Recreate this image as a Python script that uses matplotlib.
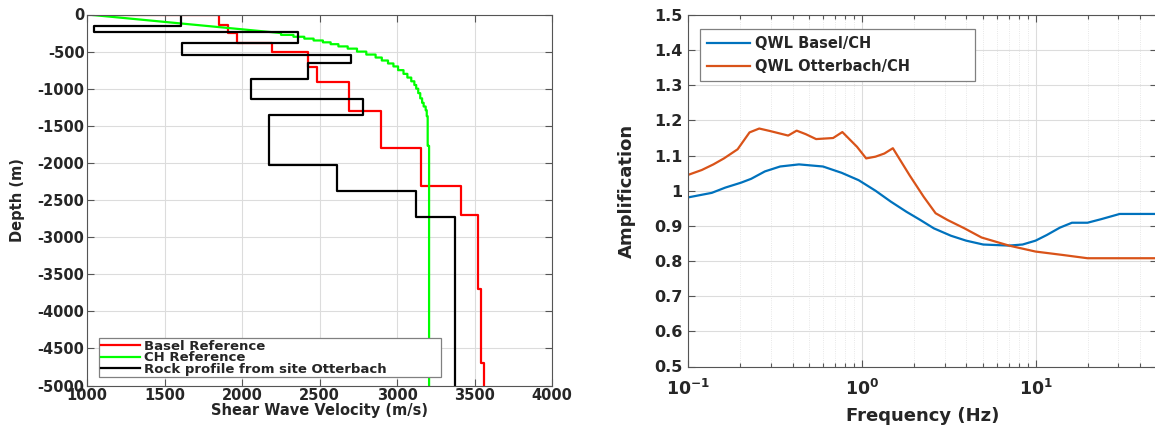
import numpy as np
import matplotlib
matplotlib.use('Agg')
import matplotlib.pyplot as plt
from matplotlib.ticker import FixedLocator, NullFormatter

# ---------------- Left panel data (velocity profiles) ----------------
basel_depth = [0, -10, -140, -253, -380, -505, -703, -905, -1300, -1800,
               -2305, -2702, -3700, -4700, -5000]
basel_vs = [1195, 1852, 1910, 1968, 2194, 2426, 2484, 2686, 2895, 3152,
            3411, 3520, 3540, 3560]

# CH reference: near-linear gradient at the top, then fine layers
ch_grad_depth = [0, -250]
ch_grad_vs = [1000, 2250]
ch_depth = [-250, -275, -300, -325, -350, -375, -400, -430, -460, -500,
            -540, -580, -620, -660, -700, -750, -800, -850, -900, -950,
            -1000, -1060, -1130, -1190, -1240, -1290, -1370, -1770, -5000]
ch_vs = [2250, 2330, 2400, 2460, 2520, 2570, 2620, 2680, 2740, 2800, 2860,
         2900, 2940, 2975, 3005, 3040, 3065, 3090, 3110, 3122, 3135, 3148,
         3160, 3170, 3183, 3190, 3196, 3205]

otter_depth = [0, -160, -232, -388, -546, -658, -873, -1143, -1358, -2028,
               -2379, -2725, -5000]
otter_vs = [1603, 1043, 2361, 1609, 2700, 2422, 2054, 2777, 2170, 2609,
            3119, 3372]

profile_labels = ['Basel Reference', 'CH Reference',
                  'Rock profile from site Otterbach']
vel_ticks = [1000, 1500, 2000, 2500, 3000, 3500, 4000]
depth_ticks = [0, -500, -1000, -1500, -2000, -2500, -3000, -3500, -4000,
               -4500, -5000]

# ---------------- Right panel data (amplification) ----------------
freq_basel = [0.1, 0.137, 0.164, 0.202, 0.231, 0.277, 0.339, 0.435, 0.598,
              0.766, 0.96, 1.20, 1.47, 1.81, 2.17, 2.60, 3.26, 3.99, 5.0,
              7.03, 8.42, 10.0, 11.6, 13.8, 16.2, 19.9, 23.8, 30.5, 50.0]
amp_basel = [0.981, 0.994, 1.009, 1.023, 1.034, 1.055, 1.069, 1.075, 1.069,
             1.051, 1.030, 1.000, 0.969, 0.940, 0.917, 0.893, 0.872, 0.858,
             0.847, 0.844, 0.847, 0.858, 0.874, 0.895, 0.909, 0.909, 0.919,
             0.934, 0.934]

freq_otter = [0.1, 0.120, 0.140, 0.161, 0.193, 0.226, 0.257, 0.296, 0.377,
              0.422, 0.476, 0.546, 0.684, 0.773, 0.939, 1.06, 1.20, 1.35,
              1.51, 1.89, 2.27, 2.66, 3.11, 3.90, 4.89, 7.03, 10.0, 14.5,
              19.9, 50.0]
amp_otter = [1.045, 1.059, 1.075, 1.092, 1.118, 1.166, 1.177, 1.170, 1.157,
             1.171, 1.161, 1.147, 1.150, 1.167, 1.125, 1.092, 1.097, 1.106,
             1.121, 1.043, 0.983, 0.936, 0.917, 0.893, 0.867, 0.844, 0.827,
             0.817, 0.808, 0.808]

amp_labels = ['QWL Basel/CH', 'QWL Otterbach/CH']
amp_ticks = [0.5, 0.6, 0.7, 0.8, 0.9, 1.0, 1.1, 1.2, 1.3, 1.4, 1.5]
amp_ticklabels = ['0.5', '0.6', '0.7', '0.8', '0.9', '1', '1.1', '1.2',
                  '1.3', '1.4', '1.5']
freq_ticks = [0.1, 1, 10]
freq_ticklabels = [r'$\mathbf{10^{-1}}$', r'$\mathbf{10^{0}}$',
                   r'$\mathbf{10^{1}}$']

# ---------------- Style ----------------
TXT = '#262626'
SPINE = '#555555'
plt.rcParams['font.family'] = ['DejaVu Sans']
plt.rcParams['font.weight'] = 'bold'
plt.rcParams['axes.labelweight'] = 'bold'
plt.rcParams['mathtext.default'] = 'bf'
plt.rcParams['axes.unicode_minus'] = False
plt.rcParams['text.color'] = TXT
plt.rcParams['axes.labelcolor'] = TXT
plt.rcParams['xtick.color'] = SPINE
plt.rcParams['ytick.color'] = SPINE
plt.rcParams['xtick.labelcolor'] = TXT
plt.rcParams['ytick.labelcolor'] = TXT


def stair(vs, depth):
    vs = np.asarray(vs, float)
    depth = np.asarray(depth, float)
    x = np.repeat(vs, 2)
    y = np.concatenate(([depth[0]], np.repeat(depth[1:-1], 2), [depth[-1]]))
    return x, y


W, H = 1155, 432
fig = plt.figure(figsize=(W / 100, H / 100), dpi=100)

# ---------------- Left axes ----------------
axL = fig.add_axes([87.3 / W, 1 - 385.5 / H, 465 / W, 371 / H])

xb, yb = stair(basel_vs, basel_depth)
axL.plot(xb, yb, color='#ff0000', lw=1.6, label=profile_labels[0])

xc, yc = stair(ch_vs, ch_depth)
xc = np.concatenate((ch_grad_vs, xc))
yc = np.concatenate((ch_grad_depth, yc))
axL.plot(xc, yc, color='#00ff00', lw=1.6, label=profile_labels[1])

xo, yo = stair(otter_vs, otter_depth)
axL.plot(xo, yo, color='#000000', lw=1.6, label=profile_labels[2])

axL.set_xlim(1000, 4000)
axL.set_ylim(-5000, 0)
axL.set_xticks(vel_ticks)
axL.set_yticks(depth_ticks)
axL.grid(True, color='#dcdcdc', lw=0.8)
axL.set_axisbelow(True)
axL.tick_params(direction='in', length=5, top=True, right=True,
                labelsize=10.5, pad=2, width=0.8)
for s in axL.spines.values():
    s.set_color(SPINE)
    s.set_linewidth(0.8)
axL.set_xlabel('Shear Wave Velocity (m/s)', fontsize=10.5, labelpad=0)
axL.set_ylabel('Depth (m)', fontsize=10.5, labelpad=9)
legL = axL.legend(loc='lower left', bbox_to_anchor=(0.025, 0.022, 0.735, 0.3),
                  mode='expand', borderaxespad=0, fontsize=9.5,
                  handlelength=3.0, labelspacing=-0.12, handletextpad=0.3,
                  borderpad=0.12, fancybox=False, framealpha=1,
                  edgecolor='#808080')
legL.get_frame().set_linewidth(0.9)

# ---------------- Right axes ----------------
axR = fig.add_axes([688 / W, 1 - 366.5 / H, 469 / W, 351.5 / H])
axR.plot(freq_basel, amp_basel, color='#0072BD', lw=1.6, label=amp_labels[0])
axR.plot(freq_otter, amp_otter, color='#D95319', lw=1.6, label=amp_labels[1])
axR.set_xscale('log')
axR.set_xlim(0.1, 50)
axR.set_ylim(0.5, 1.5)
axR.set_yticks(amp_ticks)
axR.set_yticklabels(amp_ticklabels)
axR.xaxis.set_major_locator(FixedLocator(freq_ticks))
axR.set_xticklabels(freq_ticklabels)
minor = [m * 10.0 ** e for e in (-1, 0, 1) for m in range(2, 10)]
axR.xaxis.set_minor_locator(FixedLocator(minor))
axR.xaxis.set_minor_formatter(NullFormatter())
axR.grid(True, which='major', color='#dcdcdc', lw=0.8)
axR.grid(True, which='minor', axis='x', color='#e0e0e0', lw=0.6,
         linestyle=':')
axR.set_axisbelow(True)
axR.tick_params(which='both', direction='in', top=True, right=True,
                width=0.8)
axR.tick_params(which='major', length=5)
axR.tick_params(which='minor', length=3)
axR.tick_params(axis='y', labelsize=11.5, pad=4)
axR.tick_params(axis='x', labelsize=12.5, pad=9)
for s in axR.spines.values():
    s.set_color(SPINE)
    s.set_linewidth(0.8)
axR.set_xlabel('Frequency (Hz)', fontsize=13, labelpad=6)
axR.set_ylabel('Amplification', fontsize=13, labelpad=13)
legR = axR.legend(loc='upper left', bbox_to_anchor=(0.0256, 0.5, 0.586, 0.46),
                  mode='expand', borderaxespad=0, fontsize=10.5,
                  handlelength=3.0, labelspacing=0.6, handletextpad=0.3,
                  borderpad=0.45, fancybox=False, framealpha=1,
                  edgecolor='#808080')
legR.get_frame().set_linewidth(0.9)

fig.savefig('out.png', dpi=100)
